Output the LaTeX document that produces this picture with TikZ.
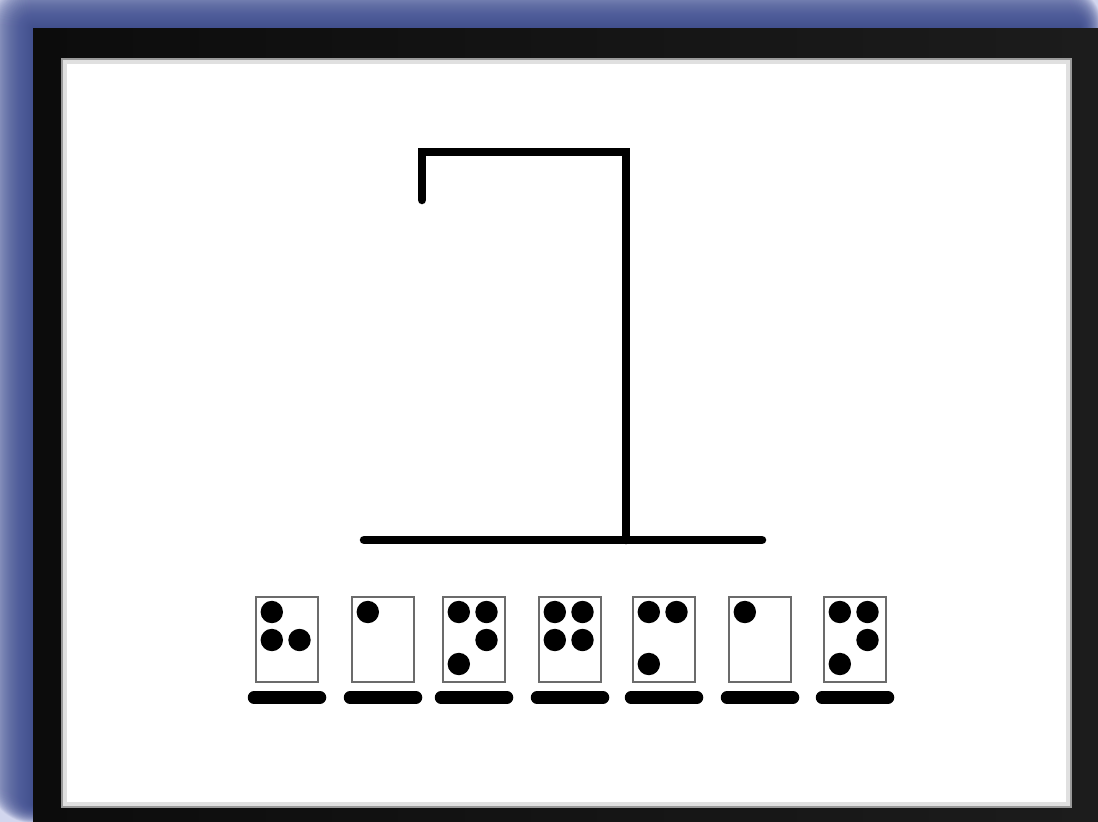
\documentclass[tikz,border=0pt]{standalone}
\definecolor{glow}{HTML}{3C4B8F}
\definecolor{bgblue}{HTML}{D2D6EE}
\definecolor{framek}{HTML}{0C0C0C}
\begin{document}
\begin{tikzpicture}[x=1pt,y=-1pt,
  cellbox/.style={draw=black!58, line width=1.6pt, minimum width=62pt, minimum height=85pt, inner sep=0pt, outer sep=0pt, fill=white},
  blank/.style={line width=12.5pt, line cap=round},
  post/.style={line width=8.5pt, line join=miter}]
\useasboundingbox (0,0) rectangle (1098,822);
% background glow
\fill[bgblue] (0,0) rectangle (1098,822);
\foreach \i in {1,...,45}
  \fill[glow, fill opacity=0.05, rounded corners=\i pt] (33-\i,28-\i) rectangle (1080+0.5*\i,805+0.4*\i);
% frame
\shade[left color=framek, right color=black!89] (33,28) rectangle (1098,822);
% inner white panel
\fill[white] (61,58) rectangle (1072,808);
\draw[black!12, line width=4pt] (65,62) rectangle (1068,804);
\draw[black!40, line width=1.8pt] (62,59) rectangle (1071,807);
% gallows
\coordinate (hook) at (422,200);
\coordinate (tl) at (422,152);
\coordinate (tr) at (626,152);
\coordinate (pb) at (626,540);
\coordinate (bl) at (364,540);
\coordinate (br) at (762,540);
\draw[post, line cap=round] (hook) -- (tl) -- (tr) -- (pb);
\draw[post, line cap=round] (bl) -- (br);
% braille cells and blanks
\foreach \n/\x in {1/287,2/383,3/474,4/570,5/664,6/760,7/855} {
  \node[cellbox] (c\n) at (\x,639.5) {};
  \draw[blank] ([xshift=-33pt,yshift=-15.5pt]c\n.south) -- ([xshift=33pt,yshift=-15.5pt]c\n.south);
}
\foreach \cc/\dd in {1/1,1/2,1/5,2/1,3/1,3/3,3/4,3/5,4/1,4/2,4/4,4/5,5/1,5/3,5/4,6/1,7/1,7/3,7/4,7/5} {
  \pgfmathsetmacro\dx{{-15.2,-15.2,-15.2,12.5,12.5,12.5}[\dd-1]}
  \pgfmathsetmacro\dy{{-27.5,0.5,24.5,-27.5,0.5,24.5}[\dd-1]}
  \fill[black] ([shift={(\dx,\dy)}]c\cc.center) circle[radius=11.2pt];
}
\end{tikzpicture}
\end{document}
